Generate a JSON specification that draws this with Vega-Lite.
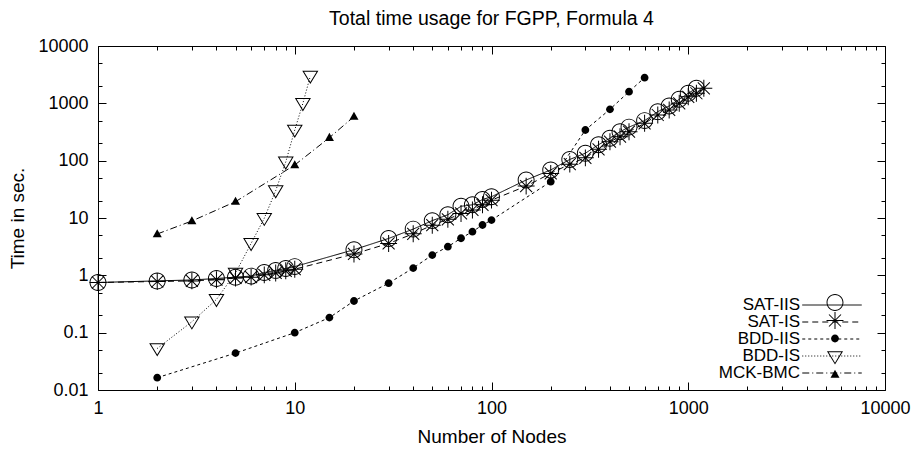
{
  "$schema": "https://vega.github.io/schema/vega-lite/v6.json",
  "width": 787,
  "height": 344,
  "autosize": {"type": "none"},
  "padding": {"left": 98, "top": 46, "right": 35, "bottom": 59},
  "background": "white",
  "title": {"text": "Total time usage for FGPP, Formula 4", "fontSize": 19.5, "fontWeight": "normal", "font": "Liberation Sans", "color": "black", "anchor": "middle", "offset": 8},
  "config": {
    "view": {"stroke": "black", "strokeWidth": 1},
    "font": "Liberation Sans",
    "axis": {"labelFont": "Liberation Sans", "titleFont": "Liberation Sans", "labelColor": "black", "titleColor": "black", "tickColor": "black", "tickWidth": 1, "titleFontWeight": "normal", "labelFontSize": 18, "titleFontSize": 19, "grid": false, "domain": false},
    "legend": {"labelFont": "Liberation Sans", "labelColor": "black", "labelFontSize": 17}
  },
  "data": {"values": [
    {"series": "SAT-IIS", "nodes": 1, "time": 0.75},
    {"series": "SAT-IIS", "nodes": 2, "time": 0.8},
    {"series": "SAT-IIS", "nodes": 3, "time": 0.83},
    {"series": "SAT-IIS", "nodes": 4, "time": 0.88},
    {"series": "SAT-IIS", "nodes": 5, "time": 0.93},
    {"series": "SAT-IIS", "nodes": 6, "time": 0.97},
    {"series": "SAT-IIS", "nodes": 7, "time": 1.12},
    {"series": "SAT-IIS", "nodes": 8, "time": 1.22},
    {"series": "SAT-IIS", "nodes": 9, "time": 1.32},
    {"series": "SAT-IIS", "nodes": 10, "time": 1.42},
    {"series": "SAT-IIS", "nodes": 20, "time": 2.8},
    {"series": "SAT-IIS", "nodes": 30, "time": 4.4},
    {"series": "SAT-IIS", "nodes": 40, "time": 6.4},
    {"series": "SAT-IIS", "nodes": 50, "time": 9.0},
    {"series": "SAT-IIS", "nodes": 60, "time": 11.4},
    {"series": "SAT-IIS", "nodes": 70, "time": 16},
    {"series": "SAT-IIS", "nodes": 80, "time": 17},
    {"series": "SAT-IIS", "nodes": 90, "time": 21},
    {"series": "SAT-IIS", "nodes": 100, "time": 23.5},
    {"series": "SAT-IIS", "nodes": 150, "time": 46},
    {"series": "SAT-IIS", "nodes": 200, "time": 69},
    {"series": "SAT-IIS", "nodes": 250, "time": 105},
    {"series": "SAT-IIS", "nodes": 300, "time": 135},
    {"series": "SAT-IIS", "nodes": 350, "time": 190},
    {"series": "SAT-IIS", "nodes": 400, "time": 246},
    {"series": "SAT-IIS", "nodes": 450, "time": 320},
    {"series": "SAT-IIS", "nodes": 500, "time": 385},
    {"series": "SAT-IIS", "nodes": 600, "time": 500},
    {"series": "SAT-IIS", "nodes": 700, "time": 716},
    {"series": "SAT-IIS", "nodes": 800, "time": 900},
    {"series": "SAT-IIS", "nodes": 900, "time": 1175},
    {"series": "SAT-IIS", "nodes": 1000, "time": 1500},
    {"series": "SAT-IIS", "nodes": 1100, "time": 1830},
    {"series": "SAT-IS", "nodes": 1, "time": 0.75},
    {"series": "SAT-IS", "nodes": 2, "time": 0.78},
    {"series": "SAT-IS", "nodes": 3, "time": 0.8},
    {"series": "SAT-IS", "nodes": 4, "time": 0.84},
    {"series": "SAT-IS", "nodes": 5, "time": 0.9},
    {"series": "SAT-IS", "nodes": 6, "time": 0.93},
    {"series": "SAT-IS", "nodes": 7, "time": 1.02},
    {"series": "SAT-IS", "nodes": 8, "time": 1.1},
    {"series": "SAT-IS", "nodes": 9, "time": 1.2},
    {"series": "SAT-IS", "nodes": 10, "time": 1.28},
    {"series": "SAT-IS", "nodes": 20, "time": 2.36},
    {"series": "SAT-IS", "nodes": 30, "time": 3.6},
    {"series": "SAT-IS", "nodes": 40, "time": 5.3},
    {"series": "SAT-IS", "nodes": 50, "time": 7.5},
    {"series": "SAT-IS", "nodes": 60, "time": 9.5},
    {"series": "SAT-IS", "nodes": 70, "time": 12},
    {"series": "SAT-IS", "nodes": 80, "time": 13.8},
    {"series": "SAT-IS", "nodes": 90, "time": 17},
    {"series": "SAT-IS", "nodes": 100, "time": 20.5},
    {"series": "SAT-IS", "nodes": 150, "time": 36},
    {"series": "SAT-IS", "nodes": 200, "time": 60},
    {"series": "SAT-IS", "nodes": 250, "time": 87},
    {"series": "SAT-IS", "nodes": 300, "time": 112},
    {"series": "SAT-IS", "nodes": 350, "time": 158},
    {"series": "SAT-IS", "nodes": 400, "time": 214},
    {"series": "SAT-IS", "nodes": 450, "time": 262},
    {"series": "SAT-IS", "nodes": 500, "time": 320},
    {"series": "SAT-IS", "nodes": 600, "time": 448},
    {"series": "SAT-IS", "nodes": 700, "time": 626},
    {"series": "SAT-IS", "nodes": 800, "time": 766},
    {"series": "SAT-IS", "nodes": 900, "time": 1000},
    {"series": "SAT-IS", "nodes": 1000, "time": 1300},
    {"series": "SAT-IS", "nodes": 1100, "time": 1500},
    {"series": "SAT-IS", "nodes": 1200, "time": 1830},
    {"series": "BDD-IIS", "nodes": 2, "time": 0.0164},
    {"series": "BDD-IIS", "nodes": 5, "time": 0.044},
    {"series": "BDD-IIS", "nodes": 10, "time": 0.1},
    {"series": "BDD-IIS", "nodes": 15, "time": 0.183},
    {"series": "BDD-IIS", "nodes": 20, "time": 0.357},
    {"series": "BDD-IIS", "nodes": 30, "time": 0.73},
    {"series": "BDD-IIS", "nodes": 40, "time": 1.34},
    {"series": "BDD-IIS", "nodes": 50, "time": 2.26},
    {"series": "BDD-IIS", "nodes": 60, "time": 3.16},
    {"series": "BDD-IIS", "nodes": 70, "time": 4.43},
    {"series": "BDD-IIS", "nodes": 80, "time": 5.78},
    {"series": "BDD-IIS", "nodes": 90, "time": 7.55},
    {"series": "BDD-IIS", "nodes": 100, "time": 9.2},
    {"series": "BDD-IIS", "nodes": 200, "time": 43},
    {"series": "BDD-IIS", "nodes": 300, "time": 343},
    {"series": "BDD-IIS", "nodes": 400, "time": 787},
    {"series": "BDD-IIS", "nodes": 500, "time": 1600},
    {"series": "BDD-IIS", "nodes": 600, "time": 2805},
    {"series": "BDD-IS", "nodes": 2, "time": 0.053},
    {"series": "BDD-IS", "nodes": 3, "time": 0.155},
    {"series": "BDD-IS", "nodes": 4, "time": 0.38},
    {"series": "BDD-IS", "nodes": 5, "time": 1.1},
    {"series": "BDD-IS", "nodes": 6, "time": 3.6},
    {"series": "BDD-IS", "nodes": 7, "time": 9.9},
    {"series": "BDD-IS", "nodes": 8, "time": 30},
    {"series": "BDD-IS", "nodes": 9, "time": 95},
    {"series": "BDD-IS", "nodes": 10, "time": 343},
    {"series": "BDD-IS", "nodes": 11, "time": 1000},
    {"series": "BDD-IS", "nodes": 12, "time": 3000},
    {"series": "MCK-BMC", "nodes": 2, "time": 5.26},
    {"series": "MCK-BMC", "nodes": 3, "time": 8.87},
    {"series": "MCK-BMC", "nodes": 5, "time": 19.3},
    {"series": "MCK-BMC", "nodes": 10, "time": 84},
    {"series": "MCK-BMC", "nodes": 15, "time": 252},
    {"series": "MCK-BMC", "nodes": 20, "time": 586}
  ]},
  "layer": [
    {
      "mark": {"type": "line", "stroke": "black", "strokeWidth": 1},
      "encoding": {
        "x": {"field": "nodes", "type": "quantitative", "scale": {"type": "log", "domain": [1, 10000], "nice": false},
          "axis": {"orient": "bottom", "title": "Number of Nodes", "values": [1,2,3,4,5,6,7,8,9,10,20,30,40,50,60,70,80,90,100,200,300,400,500,600,700,800,900,1000,2000,3000,4000,5000,6000,7000,8000,9000,10000],
            "format": "~g", "labelExpr": "abs(log(datum.value)/LN10 - round(log(datum.value)/LN10)) < 0.001 ? datum.label : ''",
            "tickSize": {"condition": {"test": "abs(log(datum.value)/LN10 - round(log(datum.value)/LN10)) < 0.001", "value": -8}, "value": -4},
            "labelPadding": 17.5, "labelFlush": false, "labelOverlap": false, "titlePadding": 6}},
        "y": {"field": "time", "type": "quantitative", "scale": {"type": "log", "domain": [0.01, 10000], "nice": false},
          "axis": {"orient": "left", "title": "Time in sec.", "values": [0.01,0.02,0.05,0.1,0.2,0.5,1,2,5,10,20,50,100,200,500,1000,2000,5000,10000],
            "format": "~g", "labelExpr": "abs(log(datum.value)/LN10 - round(log(datum.value)/LN10)) < 0.001 ? datum.label : ''",
            "tickSize": {"condition": {"test": "abs(log(datum.value)/LN10 - round(log(datum.value)/LN10)) < 0.001", "value": -8}, "value": -4},
            "labelPadding": 18, "labelFlush": false, "labelOverlap": false, "titlePadding": 10}},
        "strokeDash": {"field": "series", "type": "nominal",
          "scale": {"domain": ["SAT-IIS", "SAT-IS", "BDD-IIS", "BDD-IS", "MCK-BMC"], "range": [[1, 0], [6, 4], [3, 3], [1, 2], [7, 3, 1, 3]]},
          "legend": {"title": null, "orient": "none", "legendX": 725, "legendY": 250, "symbolType": "M-3.5,0L3.5,0", "symbolSize": 289, "symbolStrokeWidth": 1, "symbolStrokeColor": "black", "labelAlign": "right", "labelOffset": -41, "labelFontSize": 17, "rowPadding": 0, "padding": 0}}
      }
    },
    {
      "mark": {"type": "point", "filled": true, "fill": "black", "strokeWidth": 0, "opacity": 1, "size": 260},
      "encoding": {
        "x": {"field": "nodes", "type": "quantitative",
          "axis": {"orient": "top", "title": null, "labels": false, "values": [1,2,3,4,5,6,7,8,9,10,20,30,40,50,60,70,80,90,100,200,300,400,500,600,700,800,900,1000,2000,3000,4000,5000,6000,7000,8000,9000,10000],
            "tickSize": {"condition": {"test": "abs(log(datum.value)/LN10 - round(log(datum.value)/LN10)) < 0.001", "value": -8}, "value": -4}}},
        "y": {"field": "time", "type": "quantitative",
          "axis": {"orient": "right", "title": null, "labels": false, "values": [0.01,0.02,0.05,0.1,0.2,0.5,1,2,5,10,20,50,100,200,500,1000,2000,5000,10000],
            "tickSize": {"condition": {"test": "abs(log(datum.value)/LN10 - round(log(datum.value)/LN10)) < 0.001", "value": -8}, "value": -4}}},
        "shape": {"field": "series", "type": "nominal", "sort": ["SAT-IIS", "SAT-IS", "BDD-IIS", "BDD-IS", "MCK-BMC"],
          "scale": {"range": [
            "M-1.05,0A1.05,1.05 0 1,1 1.05,0A1.05,1.05 0 1,1 -1.05,0ZM-0.93,0A0.93,0.93 0 1,0 0.93,0A0.93,0.93 0 1,0 -0.93,0Z",
            "M-1.05,-0.062L1.05,-0.062L1.05,0.062L-1.05,0.062ZM-0.062,-1.05L0.062,-1.05L0.062,1.05L-0.062,1.05ZM-0.7,-0.788L0.788,0.7L0.7,0.788L-0.788,-0.7ZM-0.788,0.7L0.7,-0.788L0.788,-0.7L-0.7,0.788Z",
            "M-0.484,0A0.484,0.484 0 1,1 0.484,0A0.484,0.484 0 1,1 -0.484,0Z",
            "M-1,-0.66L1,-0.66L0,1ZM-0.78,-0.536L0,0.76L0.78,-0.536Z",
            "M0,-0.6L0.56,0.4L-0.56,0.4Z"]},
          "legend": {"title": null, "orient": "none", "legendX": 728.5, "legendY": 248, "labelExpr": "' '", "labelFontSize": 17, "symbolSize": 260, "rowPadding": 0, "padding": 0, "symbolFillColor": "black", "symbolStrokeWidth": 0, "symbolOpacity": 1}}
      }
    }
  ],
  "resolve": {"axis": {"x": "independent", "y": "independent"}}
}
